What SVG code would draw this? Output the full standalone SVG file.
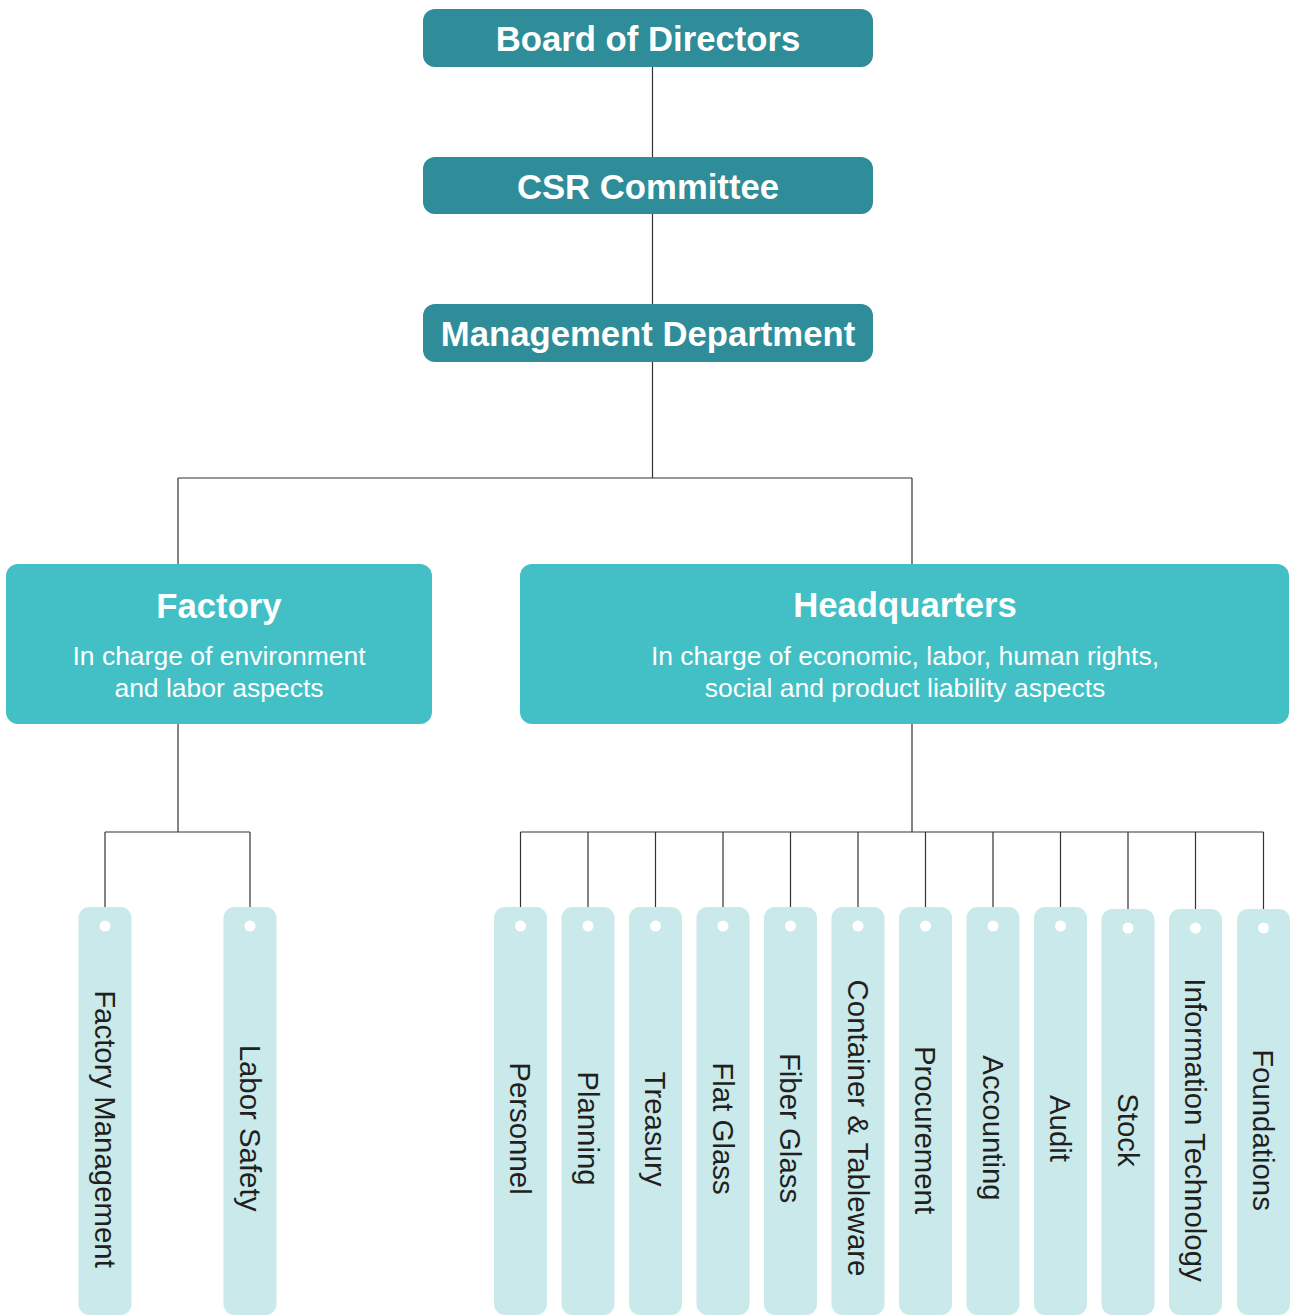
<svg xmlns="http://www.w3.org/2000/svg" width="1292" height="1315" viewBox="0 0 1292 1315">
  <style>
    .top { fill: #2e8d98; }
    .mid { fill: #42c0c6; }
    .leaf { fill: #c9e9ea; }
    .dot { fill: #ffffff; }
    .title { font-family: "Liberation Sans", Arial, sans-serif; font-weight: bold; font-size: 34.7px; fill: #ffffff; text-anchor: middle; }
    .sub { font-family: "Liberation Sans", Arial, sans-serif; font-size: 26.5px; fill: #ffffff; text-anchor: middle; }
    .vlabel { font-family: "Liberation Sans", Arial, sans-serif; font-size: 29.4px; fill: #231f20; text-anchor: middle; dominant-baseline: central; }
    .conn { fill: none; stroke: #333333; stroke-width: 1.2; }
  </style>
  <rect width="1292" height="1315" fill="#ffffff"/>

  <!-- connectors -->
  <g id="connectors" class="conn">
    <path d="M652.5 67 V478"/>
    <path d="M178 478 H912 M178 478 V564 M912 478 V564"/>
    <path d="M178 724 V832 M105 832 H250 M105 832 V907 M250 832 V907"/>
    <path d="M912 724 V832 M520.5 832 H1263.5"/>
    <path d="M520.5 832 V907 M588 832 V907 M655.5 832 V907 M723 832 V907 M790.5 832 V907 M858 832 V907 M925.5 832 V907 M993 832 V907 M1060.5 832 V907 M1128 832 V909 M1195.5 832 V909 M1263.5 832 V909"/>
  </g>

  <!-- upper chain -->
  <g id="board">
    <rect class="top" x="423" y="9" width="450" height="58" rx="12"/>
    <text class="title" x="648" y="51">Board of Directors</text>
  </g>
  <g id="csr">
    <rect class="top" x="423" y="157" width="450" height="57" rx="12"/>
    <text class="title" x="648" y="199">CSR Committee</text>
  </g>
  <g id="management">
    <rect class="top" x="423" y="304" width="450" height="58" rx="12"/>
    <text class="title" x="648" y="346">Management Department</text>
  </g>

  <!-- divisions -->
  <g id="factory">
    <rect class="mid" x="6" y="564" width="426" height="160" rx="12"/>
    <text class="title" x="219" y="618">Factory</text>
    <text class="sub" x="219" y="665">In charge of environment</text>
    <text class="sub" x="219" y="697">and labor aspects</text>
  </g>
  <g id="headquarters">
    <rect class="mid" x="520" y="564" width="769" height="160" rx="12"/>
    <text class="title" x="905" y="617">Headquarters</text>
    <text class="sub" x="905" y="665">In charge of economic, labor, human rights,</text>
    <text class="sub" x="905" y="697">social and product liability aspects</text>
  </g>

  <!-- factory units -->
  <g id="factory-management">
    <rect class="leaf" x="78.5" y="907" width="53" height="408" rx="11"/>
    <circle class="dot" cx="105" cy="926" r="5.5"/>
    <text class="vlabel" transform="translate(105 1129) rotate(90)">Factory Management</text>
  </g>
  <g id="labor-safety">
    <rect class="leaf" x="223.5" y="907" width="53" height="408" rx="11"/>
    <circle class="dot" cx="250" cy="926" r="5.5"/>
    <text class="vlabel" transform="translate(250 1128) rotate(90)">Labor Safety</text>
  </g>

  <!-- headquarters units -->
  <g id="personnel">
    <rect class="leaf" x="494" y="907" width="53" height="408" rx="11"/>
    <circle class="dot" cx="520.5" cy="926" r="5.5"/>
    <text class="vlabel" transform="translate(520.5 1128.5) rotate(90)">Personnel</text>
  </g>
  <g id="planning">
    <rect class="leaf" x="561.5" y="907" width="53" height="408" rx="11"/>
    <circle class="dot" cx="588" cy="926" r="5.5"/>
    <text class="vlabel" transform="translate(588 1128.5) rotate(90)">Planning</text>
  </g>
  <g id="treasury">
    <rect class="leaf" x="629" y="907" width="53" height="408" rx="11"/>
    <circle class="dot" cx="655.5" cy="926" r="5.5"/>
    <text class="vlabel" transform="translate(655.5 1129) rotate(90)">Treasury</text>
  </g>
  <g id="flat-glass">
    <rect class="leaf" x="696.5" y="907" width="53" height="408" rx="11"/>
    <circle class="dot" cx="723" cy="926" r="5.5"/>
    <text class="vlabel" transform="translate(723 1128.5) rotate(90)">Flat Glass</text>
  </g>
  <g id="fiber-glass">
    <rect class="leaf" x="764" y="907" width="53" height="408" rx="11"/>
    <circle class="dot" cx="790.5" cy="926" r="5.5"/>
    <text class="vlabel" transform="translate(790.5 1128) rotate(90)">Fiber Glass</text>
  </g>
  <g id="container-tableware">
    <rect class="leaf" x="831.5" y="907" width="53" height="408" rx="11"/>
    <circle class="dot" cx="858" cy="926" r="5.5"/>
    <text class="vlabel" transform="translate(858 1128) rotate(90)">Container &amp; Tableware</text>
  </g>
  <g id="procurement">
    <rect class="leaf" x="899" y="907" width="53" height="408" rx="11"/>
    <circle class="dot" cx="925.5" cy="926" r="5.5"/>
    <text class="vlabel" transform="translate(925.5 1130) rotate(90)">Procurement</text>
  </g>
  <g id="accounting">
    <rect class="leaf" x="966.5" y="907" width="53" height="408" rx="11"/>
    <circle class="dot" cx="993" cy="926" r="5.5"/>
    <text class="vlabel" transform="translate(993 1128) rotate(90)">Accounting</text>
  </g>
  <g id="audit">
    <rect class="leaf" x="1034" y="907" width="53" height="408" rx="11"/>
    <circle class="dot" cx="1060.5" cy="926" r="5.5"/>
    <text class="vlabel" transform="translate(1060.5 1128.5) rotate(90)">Audit</text>
  </g>
  <g id="stock">
    <rect class="leaf" x="1101.5" y="909" width="53" height="406" rx="11"/>
    <circle class="dot" cx="1128" cy="928" r="5.5"/>
    <text class="vlabel" transform="translate(1128 1130) rotate(90)">Stock</text>
  </g>
  <g id="information-technology">
    <rect class="leaf" x="1169" y="909" width="53" height="406" rx="11"/>
    <circle class="dot" cx="1195.5" cy="928" r="5.5"/>
    <text class="vlabel" transform="translate(1195.5 1130) rotate(90)">Information Technology</text>
  </g>
  <g id="foundations">
    <rect class="leaf" x="1237" y="909" width="53" height="406" rx="11"/>
    <circle class="dot" cx="1263.5" cy="928" r="5.5"/>
    <text class="vlabel" transform="translate(1263.5 1130) rotate(90)">Foundations</text>
  </g>
</svg>
